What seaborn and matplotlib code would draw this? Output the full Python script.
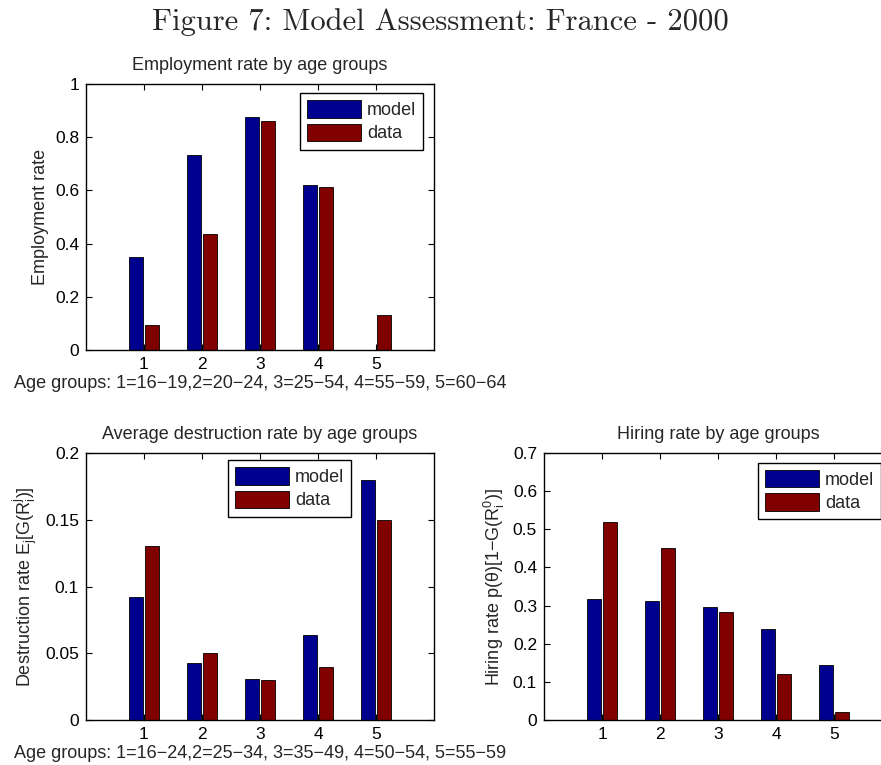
import matplotlib
matplotlib.use("Agg")
import matplotlib.pyplot as plt
import numpy as np
import pandas as pd
import seaborn as sns
from matplotlib.patches import Patch
from matplotlib.ticker import MultipleLocator, StrMethodFormatter

# ----------------------
# Data
# ----------------------
groups = [1, 2, 3, 4, 5]
series = ["model", "data"]

employment_model = [0.351, 0.732, 0.877, 0.620, 0.0]
employment_data = [0.093, 0.437, 0.862, 0.613, 0.133]

destruction_model = [0.0925, 0.0425, 0.0305, 0.064, 0.180]
destruction_data = [0.130, 0.050, 0.030, 0.040, 0.150]

hiring_model = [0.316, 0.313, 0.296, 0.238, 0.144]
hiring_data = [0.520, 0.452, 0.282, 0.121, 0.020]

colors = {"model": "#00008F", "data": "#800000"}

sns.set_theme(style="ticks")
plt.rcParams["font.family"] = ["Liberation Sans", "DejaVu Sans"]
plt.rcParams["axes.unicode_minus"] = True
FS = 13.0      # titles, labels, legend
TICK_FS = 12.5


def long_df(model, data):
    return pd.DataFrame({
        "group": groups * 2,
        "value": list(model) + list(data),
        "series": ["model"] * len(model) + ["data"] * len(data),
    })


def panel(ax, model, data, title, ylabel, ymax, ystep, legend_xy):
    sns.barplot(
        data=long_df(model, data),
        x="group", y="value", hue="series",
        hue_order=series, palette=colors, saturation=1,
        native_scale=True, width=0.552, gap=0.127,
        edgecolor="black", linewidth=0.6,
        legend=False, ax=ax,
    )
    ax.set_xlim(0, 6)
    ax.set_ylim(0, ymax)
    ax.set_xticks(groups)
    ax.yaxis.set_major_locator(MultipleLocator(ystep))
    ax.yaxis.set_major_formatter(StrMethodFormatter("{x:g}"))
    ax.tick_params(direction="in", top=True, right=True, length=4,
                   width=0.8, labelsize=TICK_FS, pad=5, colors="black")
    for s in ax.spines.values():
        s.set_visible(True)
        s.set_linewidth(1.0)
        s.set_color("black")
    ax.set_title(title, fontsize=FS, pad=10)
    ax.set_ylabel(ylabel, fontsize=FS)
    ax.set_xlabel("")
    handles = [Patch(facecolor=colors[s], edgecolor="black", linewidth=0.6) for s in series]
    leg = ax.legend(handles, series, loc="upper left", bbox_to_anchor=legend_xy,
                    fontsize=FS, frameon=True, fancybox=False, framealpha=1,
                    edgecolor="black", handlelength=3.0, handleheight=1.1,
                    labelspacing=0.25, handletextpad=0.3, borderpad=0.4,
                    borderaxespad=0)
    leg.get_frame().set_linewidth(1.0)


fig = plt.figure(figsize=(8.81, 7.65), dpi=100)
ax1 = fig.add_axes([0.0976, 0.5425, 0.395, 0.3477])
ax2 = fig.add_axes([0.0976, 0.0588, 0.395, 0.349])
ax3 = fig.add_axes([0.6175, 0.0588, 0.395, 0.349])

panel(ax1, employment_model, employment_data,
      "Employment rate by age groups", "Employment rate", 1.0, 0.2, (0.615, 0.966))
ax1.set_xlabel("Age groups: 1=16\u221219,2=20\u221224, 3=25\u221254, 4=55\u221259, 5=60\u221264",
               fontsize=FS, labelpad=2)

panel(ax2, destruction_model, destruction_data,
      "Average destruction rate by age groups",
      r"Destruction rate $\mathregular{E_j[G(R_i^j)]}$", 0.2, 0.05, (0.408, 0.974))
ax2.set_xlabel("Age groups: 1=16\u221224,2=25\u221234, 3=35\u221249, 4=50\u221254, 5=55\u221259",
               fontsize=FS, labelpad=2)

panel(ax3, hiring_model, hiring_data,
      "Hiring rate by age groups",
      r"Hiring rate p(θ)[1$\mathregular{-}$G($\mathregular{R_i^0}$)]", 0.7, 0.1, (0.615, 0.963))

fig.text(0.5, 1 - 22 / 765, "Figure 7: Model Assessment: France - 2000",
         family="cmr10", fontsize=22, ha="center", va="center")

fig.savefig("out.png", dpi=100)
